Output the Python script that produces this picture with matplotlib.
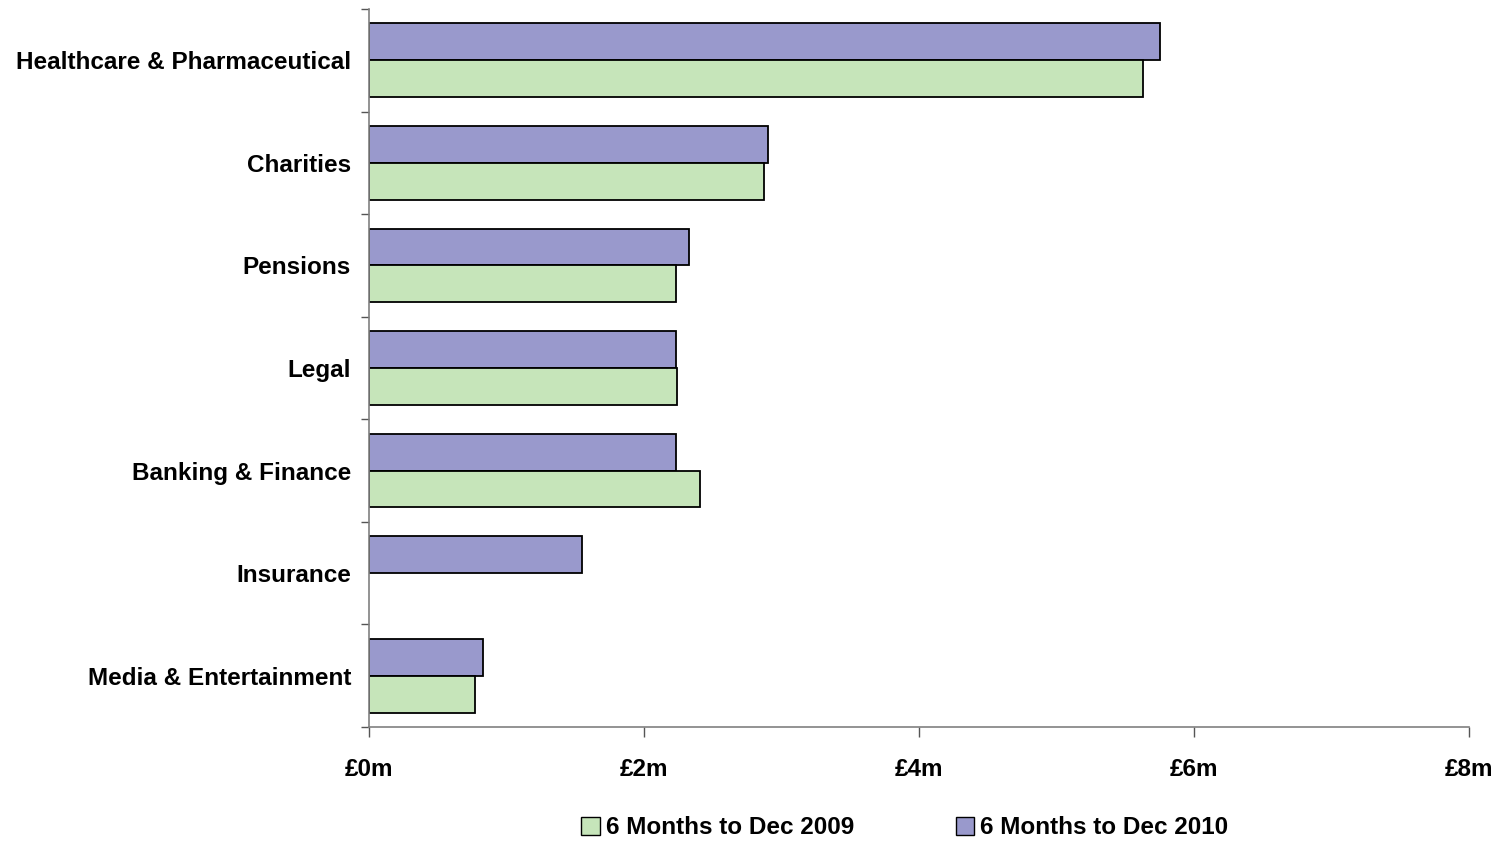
import numpy as np
import matplotlib.pyplot as plt
from matplotlib.patches import Patch

categories = ["Healthcare & Pharmaceutical", "Charities", "Pensions", "Legal",
              "Banking & Finance", "Insurance", "Media & Entertainment"]
dec_2009 = [5.63, 2.87, 2.23, 2.24, 2.41, 0.0, 0.77]
dec_2010 = [5.75, 2.90, 2.33, 2.23, 2.23, 1.55, 0.83]
xticks = [0, 2, 4, 6, 8]
xtick_labels = ["£0m", "£2m", "£4m", "£6m", "£8m"]

green = "#C6E5BA"
purple = "#9999CC"

plt.rcParams["font.family"] = ["Liberation Sans", "DejaVu Sans"]

fig = plt.figure(figsize=(15.01, 8.41), dpi=100)
ax = fig.add_axes([369 / 1501, 1 - 727 / 841, 1100 / 1501, 718 / 841])

y = np.arange(len(categories))
h = 0.36
ax.barh(y - h / 2, dec_2010, height=h, color=purple, edgecolor="black", linewidth=1.3)
# skip zero bars so no outline shows up
g = [(yy, v) for yy, v in zip(y, dec_2009) if v > 0]
ax.barh([yy + h / 2 for yy, v in g], [v for yy, v in g], height=h,
        color=green, edgecolor="black", linewidth=1.3)

ax.set_xlim(0, 8)
ax.set_ylim(6.5, -0.5)
ax.set_xticks(xticks)
ax.set_xticklabels(xtick_labels, fontsize=17.5, fontweight="bold")
ax.set_yticks(y)
ax.set_yticklabels(categories, fontsize=17.5, fontweight="bold")
ax.set_yticks(np.arange(-0.5, 7, 1), minor=True)
ax.tick_params(axis="y", which="major", length=0, pad=13)
ax.tick_params(axis="y", which="minor", length=6, color="#555555", width=1)
ax.tick_params(axis="x", length=7, color="#555555", width=1, pad=15)

for s in ["top", "right"]:
    ax.spines[s].set_visible(False)
for s in ["left", "bottom"]:
    ax.spines[s].set_color("#808080")
    ax.spines[s].set_linewidth(1.2)

handles = [Patch(facecolor=green, edgecolor="black", label="6 Months to Dec 2009"),
           Patch(facecolor=purple, edgecolor="black", label="6 Months to Dec 2010")]
fig.legend(handles=handles, loc="center", bbox_to_anchor=(905 / 1501, 1 - 828 / 841),
           ncol=2, frameon=False, handlelength=0.75, handleheight=0.75,
           handletextpad=0.25, columnspacing=4.2,
           prop={"weight": "bold", "size": 17.5})

fig.savefig("out.png", dpi=100)
